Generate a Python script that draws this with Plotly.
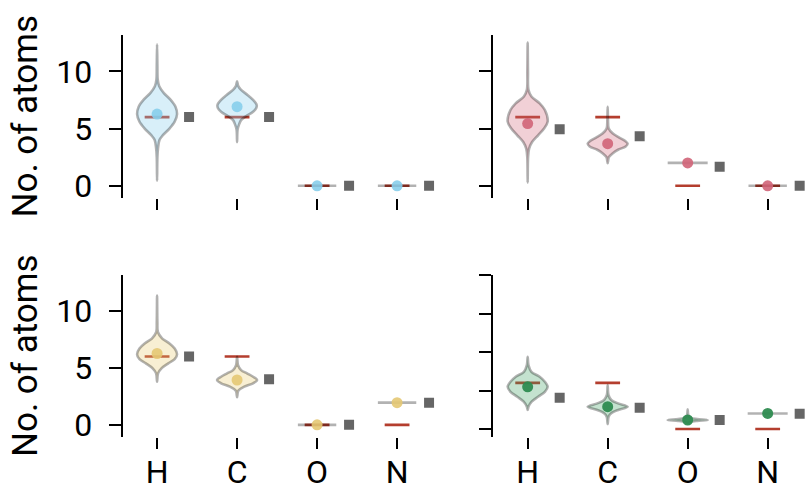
import plotly.graph_objects as go

# ---------------- data ----------------
elements = ["H", "C", "O", "N"]

# reference atom counts (red bars)
ref_tl = [6, 6, 0, 0]
ref_tr = [6, 6, 0, 0]
ref_bl = [6, 6, 0, 0]
ref_br = [6, 6, 0, 0]

# mean of generated samples (coloured dots)
mean_tl = [6.27, 6.91, 0.0, 0.0]
mean_tr = [5.44, 3.68, 2.0, 0.0]
mean_bl = [6.27, 3.94, 0.0, 1.95]
mean_br = [5.49, 2.90, 1.17, 2.02]

# comparison values (grey squares)
sq_tl = [6.0, 6.0, 0.0, 0.0]
sq_tr = [4.94, 4.32, 1.67, 0.0]
sq_bl = [6.0, 4.0, 0.0, 1.95]
sq_br = [4.07, 2.77, 1.17, 1.99]

# violin density profiles: (levels, half-widths) per element
prof_tl = {
    "H": ([0.44, 2.5, 3.3, 4.0, 4.4, 5.0, 5.6, 6.27, 6.9, 7.5, 8.1, 8.7, 9.3, 10.5, 12.36],
          [0, 0.004, 0.012, 0.03, 0.07, 0.155, 0.22, 0.25, 0.23, 0.17, 0.085, 0.027, 0.008, 0.004, 0]),
    "C": ([3.82, 4.9, 5.3, 5.74, 6.09, 6.47, 6.8, 7.06, 7.5, 7.94, 8.38, 8.7, 9.12],
          [0, 0.006, 0.022, 0.05, 0.115, 0.2, 0.24, 0.245, 0.2, 0.13, 0.05, 0.015, 0]),
    "O": ([0.0], [0.24]),
    "N": ([0.0], [0.24]),
}
prof_tr = {
    "H": ([0.29, 2.5, 3.24, 3.82, 4.41, 5.0, 5.6, 6.62, 7.2, 7.8, 8.38, 10.0, 12.5],
          [0, 0.005, 0.018, 0.055, 0.13, 0.205, 0.25, 0.215, 0.15, 0.047, 0.01, 0.004, 0]),
    "C": ([1.97, 2.5, 2.85, 3.15, 3.44, 3.68, 3.91, 4.21, 4.56, 5.0, 5.74, 6.91],
          [0, 0.015, 0.065, 0.13, 0.225, 0.25, 0.22, 0.145, 0.065, 0.013, 0.004, 0]),
    "O": ([2.0], [0.25]),
    "N": ([0.0], [0.24]),
}
prof_bl = {
    "H": ([3.79, 4.52, 4.96, 5.4, 5.77, 6.21, 6.71, 7.15, 7.58, 8.16, 9.0, 11.37],
          [0, 0.012, 0.055, 0.14, 0.22, 0.25, 0.22, 0.155, 0.065, 0.01, 0.004, 0]),
    "C": ([2.42, 3.0, 3.35, 3.65, 3.94, 4.23, 4.52, 4.81, 5.25, 5.98],
          [0, 0.015, 0.09, 0.2, 0.25, 0.2, 0.125, 0.05, 0.012, 0]),
    "O": ([0.0], [0.24]),
    "N": ([1.95], [0.24]),
}
prof_br = {
    "H": ([2.47, 2.9, 3.55, 4.19, 4.84, 5.49, 6.14, 6.79, 7.44, 8.31, 9.39],
          [0, 0.01, 0.05, 0.13, 0.215, 0.25, 0.215, 0.15, 0.047, 0.01, 0]),
    "C": ([0.65, 1.6, 2.04, 2.47, 2.9, 3.33, 3.77, 4.42, 5.71],
          [0, 0.012, 0.045, 0.13, 0.25, 0.13, 0.045, 0.01, 0]),
    "O": ([0.74, 0.9, 1.05, 1.17, 1.3, 1.45, 1.8, 2.55],
          [0, 0.03, 0.12, 0.25, 0.12, 0.04, 0.008, 0]),
    "N": ([2.02], [0.25]),
}

# ---------------- styles ----------------
FONT = "Roboto"
panels = [
    # (profiles, ref, mean, square, fill, dot, xaxis, yaxis)
    (prof_tl, ref_tl, mean_tl, sq_tl, "rgba(135,206,235,0.32)", "rgba(135,206,235,0.9)", "x", "y"),
    (prof_tr, ref_tr, mean_tr, sq_tr, "rgba(208,100,120,0.30)", "rgba(208,100,120,0.9)", "x2", "y2"),
    (prof_bl, ref_bl, mean_bl, sq_bl, "rgba(232,202,110,0.30)", "rgba(228,200,115,0.9)", "x3", "y3"),
    (prof_br, ref_br, mean_br, sq_br, "rgba(60,160,95,0.30)", "rgba(46,139,80,0.95)", "x4", "y4"),
]
RED = "rgb(180,62,46)"
OUTLINE = "rgba(0,0,0,0.30)"
BAR_HALF = 0.155
SQ_OFFSET = 0.40

fig = go.Figure()

for prof, ref, mean, sq, fill, dot, xa, ya in panels:
    idx = list(range(len(elements)))
    # red reference bars (drawn first, below violins)
    rx, ry = [], []
    for i, v in zip(idx, ref):
        rx += [i - BAR_HALF, i + BAR_HALF, None]
        ry += [v, v, None]
    fig.add_trace(go.Scatter(x=rx, y=ry, mode="lines", line=dict(color=RED, width=2.6),
                             xaxis=xa, yaxis=ya, showlegend=False, hoverinfo="skip"))
    # violins
    for i, el in zip(idx, elements):
        levels, half = prof[el]
        if len(levels) == 1:
            xs = [i + half[0], i - half[0]]
            ys = [levels[0], levels[0]]
            fig.add_trace(go.Scatter(x=xs, y=ys, mode="lines",
                                     line=dict(color=OUTLINE, width=2.6),
                                     xaxis=xa, yaxis=ya, showlegend=False, hoverinfo="skip"))
        else:
            xs = [i + h for h in half] + [i - h for h in reversed(half[:-1])]
            ys = list(levels) + list(reversed(levels[:-1]))
            fig.add_trace(go.Scatter(x=xs, y=ys, mode="lines", fill="toself", fillcolor=fill,
                                     line=dict(color=OUTLINE, width=2.6, shape="spline", smoothing=0.9),
                                     xaxis=xa, yaxis=ya, showlegend=False, hoverinfo="skip"))
    # mean dots
    fig.add_trace(go.Scatter(x=idx, y=mean, mode="markers",
                             marker=dict(color=dot, size=11, line=dict(width=0)),
                             xaxis=xa, yaxis=ya, showlegend=False))
    # grey squares
    fig.add_trace(go.Scatter(x=[i + SQ_OFFSET for i in idx], y=sq, mode="markers",
                             marker=dict(color="#666666", size=10, symbol="square", line=dict(width=0)),
                             xaxis=xa, yaxis=ya, showlegend=False))

xdom_l = [0.1522, 0.5393]
xdom_r = [0.6120, 0.9991]
ydom_t = [0.5941, 0.9283]
ydom_b = [0.1045, 0.4365]
xr = [-0.43, 3.47]

def xax(dom, anchor, labels):
    return dict(domain=dom, anchor=anchor, range=xr, tickmode="array", tickvals=[0, 1, 2, 3],
                ticktext=elements, showticklabels=labels, ticks="outside", ticklen=11, tickwidth=2,
                tickcolor="black", showline=False, showgrid=False, zeroline=False, automargin=False,
                tickfont=dict(family=FONT, size=32, color="black"), ticklabelstandoff=-4)

def yax(dom, anchor, rng, tv, labels):
    return dict(domain=dom, anchor=anchor, range=rng, tickmode="array", tickvals=tv,
                showticklabels=labels, ticks="outside", ticklen=12, tickwidth=2, tickcolor="black",
                showline=True, linewidth=2, linecolor="black", showgrid=False, zeroline=False,
                automargin=False,
                tickfont=dict(family=FONT, size=32, color="black"), ticklabelstandoff=10)

yr_lr = [-1.07, 13.17]
yr_br = [-1.04, 20.02]

fig.update_layout(
    width=806, height=488, margin=dict(l=0, r=0, t=0, b=0, autoexpand=False),
    paper_bgcolor="white", plot_bgcolor="white",
    font=dict(family=FONT, color="black"),
    xaxis=xax(xdom_l, "y", False),
    yaxis=yax(ydom_t, "x", yr_lr, [0, 5, 10], True),
    xaxis2=xax(xdom_r, "y2", False),
    yaxis2=yax(ydom_t, "x2", yr_lr, [0, 5, 10], False),
    xaxis3=xax(xdom_l, "y3", True),
    yaxis3=yax(ydom_b, "x3", yr_lr, [0, 5, 10], True),
    xaxis4=xax(xdom_r, "y4", True),
    yaxis4=yax(ydom_b, "x4", yr_br, [0, 5, 10, 15, 20], False),
    annotations=[
        dict(text="No. of atoms", x=26 / 806, y=sum(ydom_t) / 2, xref="paper", yref="paper",
             xanchor="center", yanchor="middle", textangle=-90, showarrow=False,
             font=dict(family=FONT, size=35, color="black")),
        dict(text="No. of atoms", x=26 / 806, y=sum(ydom_b) / 2, xref="paper", yref="paper",
             xanchor="center", yanchor="middle", textangle=-90, showarrow=False,
             font=dict(family=FONT, size=35, color="black")),
    ],
)

fig.write_html("out.html", config={"displayModeBar": False},
               post_script="document.body.style.margin='0px';document.body.style.overflow='hidden';")
